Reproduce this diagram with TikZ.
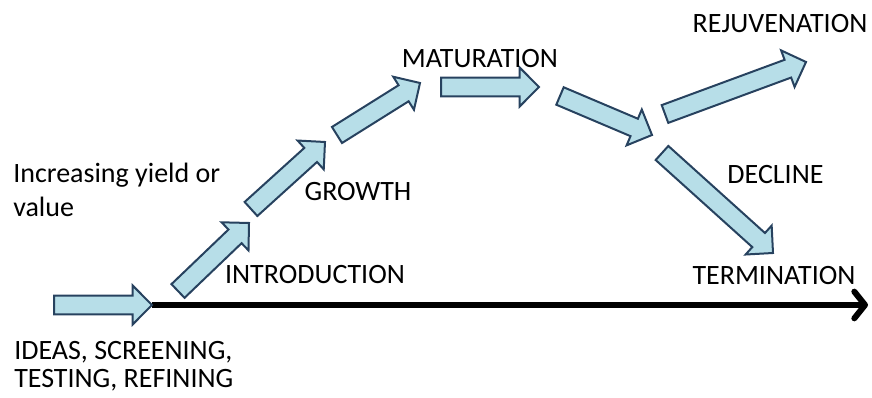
\documentclass[tikz,border=0pt]{standalone}
\usepackage{fontspec}
\setmainfont{Carlito}
\usetikzlibrary{calc,arrows.meta}
\definecolor{bfill}{HTML}{B7DEE8}
\definecolor{bline}{HTML}{27425F}
\newcommand\sh{7.1pt}
\newcommand\hh{14.6pt}
\newcommand\hl{14.5pt}
\newcommand\barrow[2]{%
  \coordinate (#1b) at ($(#2)!\hl!(#1)$);
  \draw[blk] ($(#1)!\sh!-90:(#2)$) -- ($(#1b)!\sh!-90:(#2)$) -- ($(#1b)!\hh!-90:(#2)$)
    -- (#2) -- ($(#1b)!\hh!90:(#2)$) -- ($(#1b)!\sh!90:(#2)$) -- ($(#1)!\sh!90:(#2)$) -- cycle;}
\begin{document}
\begin{tikzpicture}[x=0.75pt,y=0.75pt,
  blk/.style={fill=bfill,draw=bline,line width=1.5pt,line join=miter},
  lbl/.style={inner sep=0pt,font=\fontsize{21}{25}\selectfont},
  axis/.style={line width=4.5pt,-{Straight Barb[length=8pt,width=20pt,round]}}]
\useasboundingbox (0,0) rectangle (872,398);
% tails and tips (y up)
\coordinate (t0) at (54,93);   \coordinate (h0) at (152,93);
\coordinate (t1) at (178,107); \coordinate (h1) at (249,175);
\coordinate (t2) at (251,189); \coordinate (h2) at (325,256);
\coordinate (t3) at (337,263); \coordinate (h3) at (420,315);
\coordinate (t4) at (441,311); \coordinate (h4) at (539,311);
\coordinate (t5) at (560,302); \coordinate (h5) at (652,263);
\coordinate (t6) at (665,284); \coordinate (h6) at (806,336);
\coordinate (t7) at (662,245); \coordinate (h7) at (773,145);
\coordinate (axend) at (868,93);
\draw[axis] (h0) -- (axend);
\barrow{t0}{h0}
\barrow{t1}{h1}
\barrow{t2}{h2}
\barrow{t3}{h3}
\barrow{t4}{h4}
\barrow{t5}{h5}
\barrow{t6}{h6}
\barrow{t7}{h7}
% labels
\node[lbl] (rej) at (780,374.5) {REJUVENATION};
\node[lbl] (mat) at (480,339) {MATURATION};
\node[lbl] (gro) at (358,206) {GROWTH};
\node[lbl] (int) at (315,123) {INTRODUCTION};
\node[lbl] (dec) at (775.5,223) {DECLINE};
\node[lbl] (ter) at (774,122) {TERMINATION};
\node[lbl,anchor=base west,align=left,font=\fontsize{21}{25.5}\selectfont] (inc) at (13,181) {Increasing yield or\\value};
\node[lbl,anchor=base west,align=left,font=\fontsize{21}{21}\selectfont] (ide) at (14,10) {IDEAS, SCREENING,\\TESTING, REFINING};
\end{tikzpicture}
\end{document}
